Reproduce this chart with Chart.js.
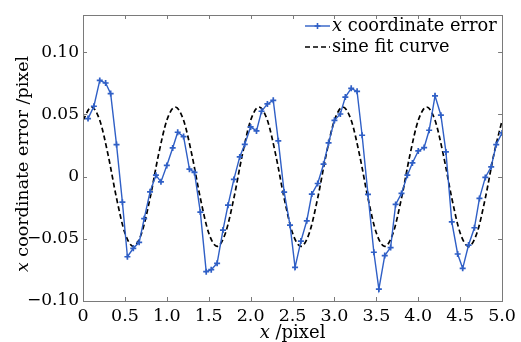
<!DOCTYPE html>
<html>
<head>
<meta charset="utf-8">
<script src="https://cdn.jsdelivr.net/npm/chart.js@4.4.1/dist/chart.umd.min.js"></script>
<style>
  html, body { margin: 0; padding: 0; background: #ffffff; }
  #wrap { width: 521px; height: 342px; position: relative; }
</style>
</head>
<body>
<div id="wrap"><canvas id="c" width="521" height="342"></canvas></div>
<script>
// ---- data ----
const errorX = [0.06,0.13,0.20,0.27,0.33,0.40,0.47,0.53,0.60,0.67,0.73,0.80,0.87,0.93,1.00,
  1.07,1.13,1.20,1.27,1.33,1.40,1.47,1.53,1.60,1.67,1.73,1.80,1.87,1.93,2.00,
  2.07,2.13,2.20,2.27,2.33,2.40,2.47,2.53,2.60,2.67,2.73,2.80,2.87,2.93,3.00,
  3.07,3.13,3.20,3.27,3.33,3.40,3.47,3.53,3.60,3.67,3.73,3.80,3.87,3.93,4.00,
  4.07,4.13,4.20,4.27,4.33,4.40,4.47,4.53,4.60,4.67,4.73,4.80,4.87,4.93,5.00];
const errorY = [0.0467,0.0566,0.0774,0.0753,0.0668,0.0258,-0.0205,-0.0644,-0.0576,-0.0528,
  -0.0338,-0.0122,0.0012,-0.0042,0.0090,0.0231,0.0357,0.0322,0.0060,0.0034,
  -0.0285,-0.0764,-0.0748,-0.0697,-0.0430,-0.0229,-0.0022,0.0159,0.0260,0.0400,
  0.0368,0.0526,0.0585,0.0614,0.0288,-0.0124,-0.0390,-0.0729,-0.0518,-0.0355,
  -0.0140,-0.0055,0.0100,0.0272,0.0453,0.0504,0.0640,0.0710,0.0686,0.0333,
  -0.0143,-0.0608,-0.0905,-0.0635,-0.0570,-0.0223,-0.0135,0.0012,0.0110,0.0207,
  0.0234,0.0373,0.0650,0.0494,0.0199,-0.0363,-0.0622,-0.0737,-0.0550,-0.0411,
  -0.0175,-0.0006,0.0079,0.0258,0.0352];
const fitX = [0.0,0.1,0.2,0.3,0.4,0.5,0.6,0.7,0.8,0.9,1.0,1.1,1.2,1.3,1.4,1.5,1.6,1.7,1.8,1.9,
  2.0,2.1,2.2,2.3,2.4,2.5,2.6,2.7,2.8,2.9,3.0,3.1,3.2,3.3,3.4,3.5,3.6,3.7,3.8,3.9,
  4.0,4.1,4.2,4.3,4.4,4.5,4.6,4.7,4.8,4.9,5.0];
const fitY = [0.0453,0.0560,0.0453,0.0173,-0.0173,-0.0453,-0.0560,-0.0453,-0.0173,0.0173,
  0.0453,0.0560,0.0453,0.0173,-0.0173,-0.0453,-0.0560,-0.0453,-0.0173,0.0173,
  0.0453,0.0560,0.0453,0.0173,-0.0173,-0.0453,-0.0560,-0.0453,-0.0173,0.0173,
  0.0453,0.0560,0.0453,0.0173,-0.0173,-0.0453,-0.0560,-0.0453,-0.0173,0.0173,
  0.0453,0.0560,0.0453,0.0173,-0.0173,-0.0453,-0.0560,-0.0453,-0.0173,0.0173,
  0.0453];
const xTickValues = [0,0.5,1.0,1.5,2.0,2.5,3.0,3.5,4.0,4.5,5.0];
const xTickLabels = ['0','0.5','1.0','1.5','2.0','2.5','3.0','3.5','4.0','4.5','5.0'];
const yTickValues = [-0.10,-0.05,0,0.05,0.10];
const yTickLabels = ['\u22120.10','\u22120.05','0','0.05','0.10'];
const seriesNames = ['coordinate error','sine fit curve'];
const axisVar = 'x';
const xTitleRest = ' /pixel';
const yTitleRest = ' coordinate error /pixel';

// ---- styling ----
const FONT = "'DejaVu Serif', 'Liberation Serif', serif";
const BLUE = '#2f5fc6';
const FRAME = '#7a7a7a';
const INK = '#000';

function toPts(xs, ys) { return xs.map((x, i) => ({ x: x, y: ys[i] })); }

function drawMixed(ctx, parts, x, y, align) {
  let total = 0;
  const widths = parts.map(p => {
    ctx.font = (p.italic ? 'italic ' : '') + p.size + 'px ' + FONT;
    const w = ctx.measureText(p.text).width;
    total += w;
    return w;
  });
  let cx = align === 'center' ? x - total / 2 : x;
  parts.forEach((p, i) => {
    ctx.font = (p.italic ? 'italic ' : '') + p.size + 'px ' + FONT;
    ctx.fillText(p.text, cx, y);
    cx += widths[i];
  });
}

const decor = {
  id: 'decor',
  afterDraw(chart) {
    const ctx = chart.ctx;
    const a = chart.chartArea;
    const xs = chart.scales.x, ys = chart.scales.y;
    ctx.save();
    // frame
    ctx.strokeStyle = FRAME;
    ctx.lineWidth = 1;
    ctx.strokeRect(Math.round(a.left) + 0.5, Math.round(a.top) + 0.5,
      Math.round(a.right - a.left), Math.round(a.bottom - a.top));
    // inward ticks
    const TL = 4;
    ctx.beginPath();
    xTickValues.forEach(v => {
      const px = Math.round(xs.getPixelForValue(v)) + 0.5;
      ctx.moveTo(px, a.bottom); ctx.lineTo(px, a.bottom - TL);
      ctx.moveTo(px, a.top); ctx.lineTo(px, a.top + TL);
    });
    yTickValues.forEach(v => {
      const py = Math.round(ys.getPixelForValue(v)) + 0.5;
      ctx.moveTo(a.left, py); ctx.lineTo(a.left + TL, py);
      ctx.moveTo(a.right, py); ctx.lineTo(a.right - TL, py);
    });
    ctx.stroke();

    ctx.fillStyle = INK;
    ctx.textBaseline = 'alphabetic';
    // x axis title
    drawMixed(ctx, [{text: axisVar, italic: true, size: 18}, {text: xTitleRest, italic: false, size: 18}],
      (a.left + a.right) / 2, 338, 'center');
    // y axis title
    ctx.save();
    ctx.translate(28, 164);
    ctx.rotate(-Math.PI / 2);
    drawMixed(ctx, [{text: axisVar, italic: true, size: 17.5}, {text: yTitleRest, italic: false, size: 17.5}],
      0, 0, 'center');
    ctx.restore();

    // legend
    const lx0 = 305, lx1 = 330, tx = 332;
    const r1 = 26, r2 = 47;
    ctx.strokeStyle = BLUE;
    ctx.lineWidth = 1.4;
    ctx.beginPath(); ctx.moveTo(lx0, r1); ctx.lineTo(lx1, r1); ctx.stroke();
    ctx.lineWidth = 1.6;
    const mx = (lx0 + lx1) / 2;
    ctx.beginPath();
    ctx.moveTo(mx - 3, r1); ctx.lineTo(mx + 3, r1);
    ctx.moveTo(mx, r1 - 3); ctx.lineTo(mx, r1 + 3);
    ctx.stroke();
    drawMixed(ctx, [{text: axisVar, italic: true, size: 17.8}, {text: ' ' + seriesNames[0], italic: false, size: 17.8}],
      tx, 31, 'left');
    ctx.strokeStyle = INK;
    ctx.lineWidth = 1.6;
    ctx.setLineDash([5, 3]);
    ctx.beginPath(); ctx.moveTo(lx0, r2); ctx.lineTo(lx1, r2); ctx.stroke();
    ctx.setLineDash([]);
    drawMixed(ctx, [{text: seriesNames[1], italic: false, size: 17.8}], tx, 52, 'left');
    ctx.restore();
  }
};

new Chart(document.getElementById('c'), {
  type: 'scatter',
  data: {
    datasets: [
      {
        label: seriesNames[1],
        data: toPts(fitX, fitY),
        showLine: true,
        borderColor: INK,
        borderWidth: 1.7,
        borderDash: [5, 3],
        pointRadius: 0,
        cubicInterpolationMode: 'monotone',
        fill: false,
        order: 2
      },
      {
        label: seriesNames[0],
        data: toPts(errorX, errorY),
        showLine: true,
        borderColor: BLUE,
        backgroundColor: BLUE,
        borderWidth: 1.4,
        pointStyle: 'cross',
        pointRadius: 3,
        pointBorderWidth: 1.7,
        pointBorderColor: BLUE,
        tension: 0,
        fill: false,
        order: 1
      }
    ]
  },
  options: {
    responsive: false,
    animation: false,
    devicePixelRatio: 1,
    layout: { padding: { top: 15, right: 15, left: 0, bottom: 0 } },
    plugins: { legend: { display: false }, tooltip: { enabled: false } },
    scales: {
      x: {
        type: 'linear', min: 0, max: 5,
        afterBuildTicks: s => { s.ticks = xTickValues.map(v => ({ value: v })); },
        afterFit: s => { s.height = 41; },
        grid: { display: false, drawTicks: false },
        border: { display: false },
        ticks: {
          autoSkip: false, maxRotation: 0, padding: 5, color: INK,
          font: { family: FONT, size: 17.5 },
          callback: (v, i) => xTickLabels[i]
        }
      },
      y: {
        type: 'linear', min: -0.10, max: 0.13,
        afterBuildTicks: s => { s.ticks = yTickValues.map(v => ({ value: v })); },
        afterFit: s => { s.width = 83; },
        grid: { display: false, drawTicks: false },
        border: { display: false },
        ticks: {
          autoSkip: false, padding: 4, color: INK,
          font: { family: FONT, size: 17 },
          callback: (v, i) => yTickLabels[i]
        }
      }
    }
  },
  plugins: [decor]
});
</script>
</body>
</html>
